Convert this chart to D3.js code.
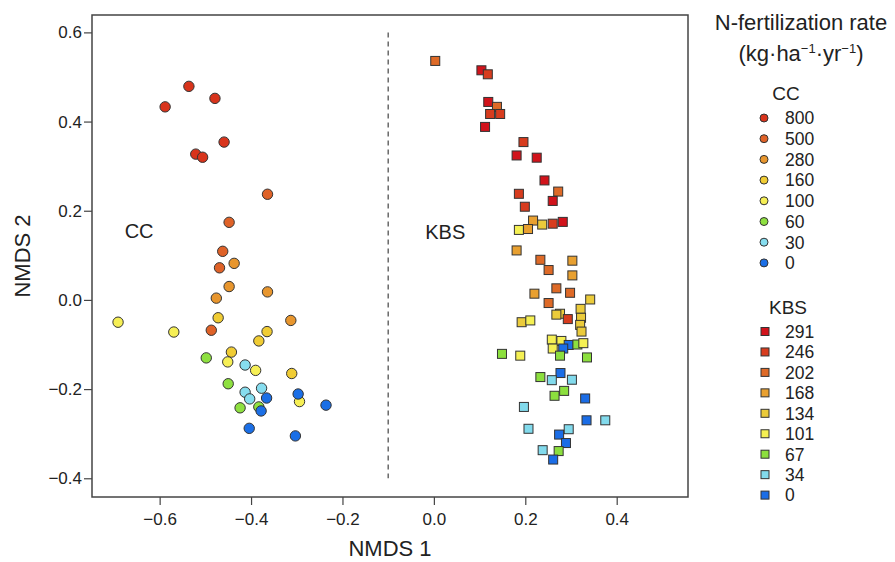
<!DOCTYPE html>
<html>
<head>
<meta charset="utf-8">
<script src="https://cdn.jsdelivr.net/npm/d3@7"></script>
<style>
  body { margin: 0; background: #fff; }
  svg { display: block; }
</style>
</head>
<body>
<script>
// NMDS scores: [NMDS1, NMDS2, N rate]
const ccPoints = [
  [-0.536, 0.479, 800], [-0.588, 0.433, 800], [-0.479, 0.452, 800],
  [-0.459, 0.354, 800], [-0.521, 0.327, 800], [-0.506, 0.320, 800],
  [-0.364, 0.237, 500], [-0.448, 0.174, 500], [-0.462, 0.109, 500],
  [-0.469, 0.072, 500], [-0.487, -0.068, 500],
  [-0.437, 0.082, 280], [-0.448, 0.030, 280], [-0.364, 0.018, 280],
  [-0.476, 0.004, 280], [-0.313, -0.046, 280],
  [-0.472, -0.040, 160], [-0.365, -0.071, 160], [-0.383, -0.092, 160],
  [-0.443, -0.117, 160], [-0.311, -0.165, 160],
  [-0.691, -0.050, 100], [-0.569, -0.072, 100], [-0.451, -0.139, 100],
  [-0.390, -0.158, 100], [-0.294, -0.228, 100],
  [-0.498, -0.130, 60], [-0.450, -0.188, 60], [-0.424, -0.242, 60],
  [-0.383, -0.240, 60],
  [-0.413, -0.146, 30], [-0.413, -0.207, 30], [-0.377, -0.198, 30],
  [-0.403, -0.222, 30],
  [-0.366, -0.220, 0], [-0.297, -0.211, 0], [-0.236, -0.236, 0],
  [-0.378, -0.249, 0], [-0.404, -0.288, 0], [-0.303, -0.305, 0]
];

const kbsPoints = [
  [0.003, 0.536, 202], [0.104, 0.515, 291], [0.118, 0.506, 246],
  [0.119, 0.444, 291], [0.138, 0.433, 202], [0.123, 0.417, 246],
  [0.145, 0.417, 246], [0.112, 0.388, 291], [0.196, 0.354, 246],
  [0.181, 0.324, 291], [0.225, 0.319, 291], [0.242, 0.268, 291],
  [0.186, 0.238, 246], [0.272, 0.243, 202], [0.260, 0.222, 291],
  [0.199, 0.209, 246], [0.217, 0.178, 168], [0.237, 0.169, 134],
  [0.260, 0.171, 246], [0.282, 0.175, 291], [0.186, 0.157, 101],
  [0.206, 0.159, 168], [0.181, 0.111, 168], [0.233, 0.090, 202],
  [0.303, 0.088, 168], [0.251, 0.067, 202], [0.303, 0.055, 168],
  [0.268, 0.026, 202], [0.220, 0.014, 168], [0.298, 0.016, 202],
  [0.342, 0.001, 134], [0.251, -0.007, 202], [0.321, -0.020, 134],
  [0.276, -0.031, 134], [0.268, -0.033, 134], [0.293, -0.043, 246],
  [0.322, -0.040, 134], [0.320, -0.056, 134], [0.323, -0.071, 134],
  [0.192, -0.050, 134], [0.211, -0.046, 101], [0.258, -0.089, 101],
  [0.279, -0.092, 101], [0.295, -0.101, 0], [0.314, -0.100, 67],
  [0.327, -0.097, 101], [0.260, -0.109, 101], [0.283, -0.109, 0],
  [0.149, -0.121, 67], [0.189, -0.125, 101], [0.276, -0.125, 67],
  [0.335, -0.129, 67], [0.277, -0.164, 0], [0.233, -0.173, 67],
  [0.258, -0.180, 34], [0.302, -0.179, 34], [0.285, -0.204, 67],
  [0.264, -0.215, 67], [0.331, -0.221, 0], [0.197, -0.240, 34],
  [0.334, -0.270, 0], [0.375, -0.270, 34], [0.207, -0.289, 34],
  [0.295, -0.290, 34], [0.274, -0.302, 0], [0.289, -0.321, 0],
  [0.238, -0.337, 34], [0.273, -0.339, 67], [0.261, -0.358, 0]
];

const ccRates = [800, 500, 280, 160, 100, 60, 30, 0];
const ccColors = ["#d8341c", "#df6228", "#e8962e", "#f0cc34", "#f6ef55", "#8ee040", "#86ddef", "#1b6fe6"];
const kbsRates = [291, 246, 202, 168, 134, 101, 67, 34, 0];
const kbsColors = ["#d1131b", "#d73c1e", "#de6a27", "#e8a030", "#ebcb3b", "#f5f053", "#8cdf3e", "#82daec", "#1b6de6"];

const xTicks = [-0.6, -0.4, -0.2, 0.0, 0.2, 0.4];
const yTicks = [-0.4, -0.2, 0.0, 0.2, 0.4, 0.6];
const siteLabels = [["CC", -0.645, 0.155], ["KBS", 0.025, 0.152]];
const divider = -0.1;

const width = 895;
const height = 562;
const margin = { top: 15, right: 207, bottom: 65, left: 92 };
const font = "'Liberation Sans', Arial, Helvetica, sans-serif";
const ink = "#222";
const frame = "#444";

const svg = d3.select("body")
  .append("svg")
  .attr("width", width)
  .attr("height", height)
  .attr("viewBox", `0 0 ${width} ${height}`);

svg.append("rect").attr("width", width).attr("height", height).attr("fill", "#fff");

const x = d3.scaleLinear()
  .domain([-0.748, 0.556])
  .range([margin.left, width - margin.right]);

const y = d3.scaleLinear()
  .domain([-0.442, 0.639])
  .range([height - margin.bottom, margin.top]);

const ccColor = d3.scaleOrdinal().domain(ccRates).range(ccColors);
const kbsColor = d3.scaleOrdinal().domain(kbsRates).range(kbsColors);

// axes (R style: ticks outside the frame)
const fmt = d3.format(".1f");
svg.append("g")
  .attr("transform", `translate(0, ${height - margin.bottom})`)
  .call(d3.axisBottom(x).tickValues(xTicks).tickFormat(fmt).tickSize(8).tickPadding(8))
  .call((g) => g.select(".domain").remove())
  .call((g) => g.selectAll(".tick line").attr("stroke", frame).attr("stroke-width", 1.2))
  .call((g) => g.selectAll("text").attr("fill", ink).attr("font-family", font).attr("font-size", 17));

svg.append("g")
  .attr("transform", `translate(${margin.left}, 0)`)
  .call(d3.axisLeft(y).tickValues(yTicks).tickFormat(fmt).tickSize(8).tickPadding(2))
  .call((g) => g.select(".domain").remove())
  .call((g) => g.selectAll(".tick line").attr("stroke", frame).attr("stroke-width", 1.2))
  .call((g) => g.selectAll("text").attr("fill", ink).attr("font-family", font).attr("font-size", 17));

// plot frame
svg.append("rect")
  .attr("x", x.range()[0])
  .attr("y", y.range()[1])
  .attr("width", x.range()[1] - x.range()[0])
  .attr("height", y.range()[0] - y.range()[1])
  .attr("fill", "none")
  .attr("stroke", frame)
  .attr("stroke-width", 1.5);

// site divider
svg.append("line")
  .attr("x1", x(divider))
  .attr("x2", x(divider))
  .attr("y1", y(0.6))
  .attr("y2", y(-0.4))
  .attr("stroke", frame)
  .attr("stroke-width", 1.2)
  .attr("stroke-dasharray", "5,4");

svg.append("g")
  .selectAll("text")
  .data(siteLabels)
  .join("text")
  .attr("x", (d) => x(d[1]))
  .attr("y", (d) => y(d[2]))
  .attr("dy", "0.36em")
  .attr("text-anchor", "middle")
  .attr("fill", ink)
  .attr("font-family", font)
  .attr("font-size", 20)
  .text((d) => d[0]);

// points
svg.append("g")
  .selectAll("circle")
  .data(ccPoints)
  .join("circle")
  .attr("cx", (d) => x(d[0]))
  .attr("cy", (d) => y(d[1]))
  .attr("r", 5.2)
  .attr("fill", (d) => ccColor(d[2]))
  .attr("stroke", "#333")
  .attr("stroke-width", 1);

const sq = 9;
svg.append("g")
  .selectAll("rect")
  .data(kbsPoints)
  .join("rect")
  .attr("x", (d) => x(d[0]) - sq / 2)
  .attr("y", (d) => y(d[1]) - sq / 2)
  .attr("width", sq)
  .attr("height", sq)
  .attr("fill", (d) => kbsColor(d[2]))
  .attr("stroke", "#333")
  .attr("stroke-width", 1);

// axis titles
svg.append("text")
  .attr("x", (x.range()[0] + x.range()[1]) / 2)
  .attr("y", 556)
  .attr("text-anchor", "middle")
  .attr("fill", ink)
  .attr("font-family", font)
  .attr("font-size", 22)
  .text("NMDS 1");

svg.append("text")
  .attr("transform", `translate(30, ${(y.range()[0] + y.range()[1]) / 2}) rotate(-90)`)
  .attr("text-anchor", "middle")
  .attr("fill", ink)
  .attr("font-family", font)
  .attr("font-size", 22)
  .text("NMDS 2");

// legend
const legend = svg.append("g").attr("font-family", font).attr("fill", ink);
const lx = 801;

legend.append("text")
  .attr("x", lx)
  .attr("y", 30)
  .attr("text-anchor", "middle")
  .attr("font-size", 22)
  .text("N-fertilization rate");

const unit = legend.append("text")
  .attr("x", lx)
  .attr("y", 61)
  .attr("text-anchor", "middle")
  .attr("font-size", 22);
unit.append("tspan").text("(kg·ha");
unit.append("tspan").attr("font-size", 13).attr("dy", -8).text("−1");
unit.append("tspan").attr("dy", 8).text("·yr");
unit.append("tspan").attr("font-size", 13).attr("dy", -8).text("−1");
unit.append("tspan").attr("dy", 8).text(")");

legend.append("text")
  .attr("x", 786)
  .attr("y", 100)
  .attr("text-anchor", "middle")
  .attr("font-size", 19)
  .text("CC");

const ccItem = legend.append("g")
  .selectAll("g")
  .data(ccRates)
  .join("g")
  .attr("transform", (d, i) => `translate(764, ${118 + i * 20.7})`);
ccItem.append("circle")
  .attr("r", 4)
  .attr("fill", (d) => ccColor(d))
  .attr("stroke", "#333")
  .attr("stroke-width", 1);
ccItem.append("text")
  .attr("x", 21)
  .attr("dy", "0.36em")
  .attr("font-size", 17.5)
  .text((d) => d);

legend.append("text")
  .attr("x", 788)
  .attr("y", 314)
  .attr("text-anchor", "middle")
  .attr("font-size", 19)
  .text("KBS");

const kbsItem = legend.append("g")
  .selectAll("g")
  .data(kbsRates)
  .join("g")
  .attr("transform", (d, i) => `translate(765, ${331.5 + i * 20.45})`);
kbsItem.append("rect")
  .attr("x", -4)
  .attr("y", -4)
  .attr("width", 8)
  .attr("height", 8)
  .attr("fill", (d) => kbsColor(d))
  .attr("stroke", "#333")
  .attr("stroke-width", 1);
kbsItem.append("text")
  .attr("x", 20)
  .attr("dy", "0.36em")
  .attr("font-size", 17.5)
  .text((d) => d);
</script>
</body>
</html>
